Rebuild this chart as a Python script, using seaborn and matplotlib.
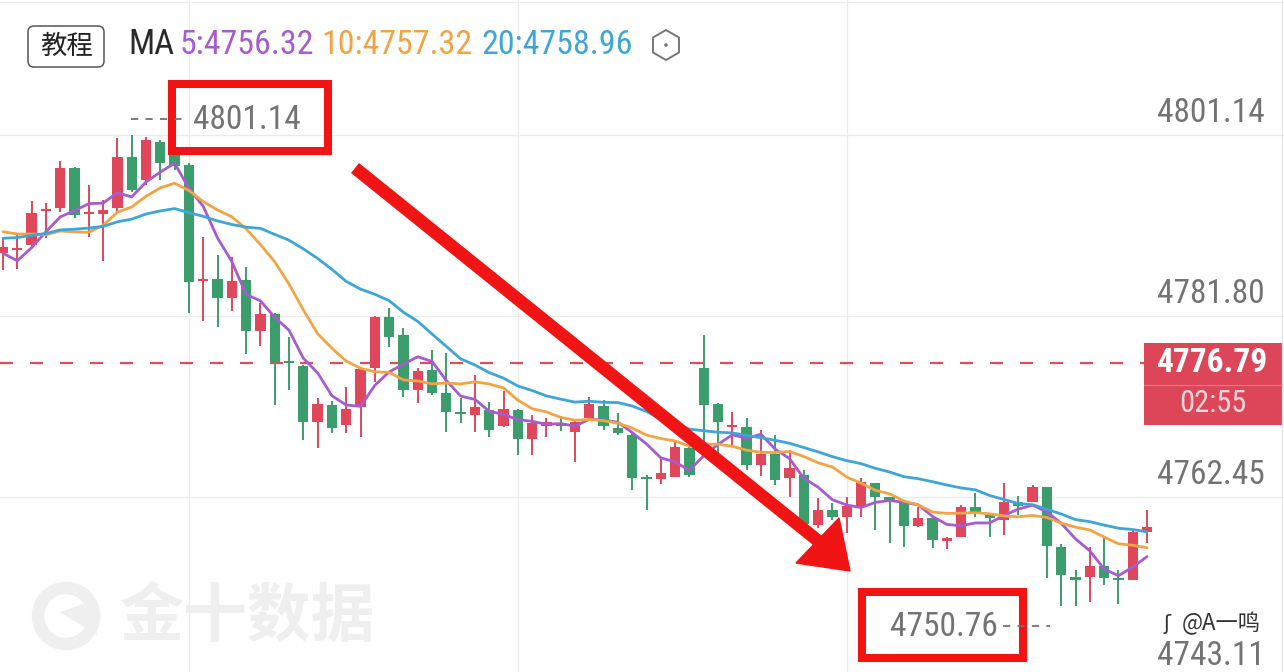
import matplotlib
matplotlib.use("Agg")
import matplotlib.pyplot as plt
from matplotlib import font_manager
from matplotlib.patches import Rectangle, Polygon, FancyBboxPatch, RegularPolygon, Circle
import seaborn as sns
import numpy as np
import pandas as pd

# candles (red = up, green = down)
open_ = [4788.5, 4788.9, 4789.4, 4793.0, 4793.3, 4797.6, 4792.7, 4792.7, 4793.3, 4798.8,
         4796.3, 4800.4, 4799.6, 4797.9, 4785.5, 4785.7, 4783.7, 4785.6, 4780.2, 4782.0,
         4777.0, 4776.5, 4770.5, 4772.3, 4770.1, 4772.1, 4776.2, 4781.7, 4779.8, 4773.9,
         4776.0, 4773.6, 4771.5, 4771.2, 4771.7, 4770.0, 4771.8, 4768.7, 4770.0, 4770.4,
         4769.4, 4770.9, 4772.2, 4769.8, 4769.1, 4764.6, 4764.4, 4764.6, 4767.7, 4776.2,
         4772.4, 4769.9, 4769.9, 4765.9, 4767.1, 4764.5, 4764.8, 4759.5, 4761.1, 4760.3,
         4761.4, 4763.9, 4762.4, 4761.9, 4759.3, 4760.2, 4757.8, 4758.2, 4761.4, 4760.5,
         4760.0, 4761.9, 4761.9, 4763.5, 4757.1, 4753.9, 4753.9, 4755.1, 4753.8, 4753.6,
         4758.7]
high_ = [4790.1, 4790.7, 4794.1, 4793.9, 4798.4, 4797.7, 4795.8, 4794.2, 4800.8, 4801.14,
         4800.9, 4800.6, 4800.4, 4798.1, 4790.2, 4788.3, 4788.1, 4787.0, 4783.2, 4782.1,
         4779.6, 4776.6, 4773.0, 4772.7, 4774.2, 4776.3, 4781.8, 4782.6, 4780.5, 4776.2,
         4778.2, 4777.8, 4773.0, 4775.5, 4772.6, 4773.8, 4771.9, 4771.2, 4770.9, 4771.1,
         4770.6, 4773.1, 4772.8, 4771.4, 4769.4, 4764.8, 4766.5, 4768.5, 4767.8, 4779.8,
         4772.5, 4771.5, 4770.9, 4769.6, 4769.1, 4767.5, 4765.3, 4762.3, 4761.8, 4762.4,
         4764.5, 4764.0, 4762.5, 4762.1, 4761.4, 4760.2, 4758.2, 4761.6, 4762.9, 4760.6,
         4764.0, 4762.6, 4763.7, 4763.5, 4757.4, 4754.6, 4757.1, 4758.1, 4754.6, 4758.9,
         4761.1]
low_ = [4786.7, 4786.8, 4789.1, 4790.1, 4792.9, 4792.3, 4790.2, 4787.7, 4792.8, 4795.0,
        4795.8, 4796.3, 4797.4, 4782.1, 4781.3, 4780.6, 4782.3, 4777.7, 4778.6, 4772.3,
        4773.9, 4768.5, 4767.7, 4769.3, 4769.3, 4768.9, 4774.7, 4778.5, 4773.1, 4772.5,
        4773.3, 4769.4, 4770.4, 4769.4, 4768.9, 4769.9, 4766.9, 4766.9, 4768.9, 4769.5,
        4766.2, 4770.7, 4769.6, 4769.1, 4763.2, 4761.1, 4763.8, 4764.6, 4764.6, 4766.7,
        4767.2, 4768.0, 4765.3, 4764.7, 4763.7, 4762.5, 4759.5, 4759.1, 4760.0, 4758.6,
        4760.3, 4758.9, 4757.5, 4757.1, 4759.2, 4757.0, 4756.9, 4758.2, 4760.3, 4758.2,
        4758.4, 4760.5, 4761.9, 4753.8, 4750.76, 4750.8, 4751.2, 4753.0, 4751.0, 4753.6,
        4757.5]
close_ = [4789.2, 4789.1, 4792.8, 4793.2, 4797.6, 4792.6, 4792.8, 4793.1, 4798.8, 4795.3,
          4800.6, 4798.1, 4797.8, 4785.4, 4785.7, 4783.7, 4785.5, 4780.2, 4782.0, 4776.9,
          4776.8, 4770.5, 4772.4, 4769.8, 4771.9, 4776.1, 4781.7, 4779.6, 4773.9, 4775.9,
          4773.6, 4771.5, 4771.3, 4772.1, 4769.6, 4771.9, 4768.7, 4770.4, 4770.5, 4770.0,
          4770.5, 4772.4, 4770.0, 4769.3, 4764.5, 4764.4, 4765.0, 4767.8, 4764.8, 4772.3,
          4770.5, 4770.1, 4765.9, 4767.0, 4764.3, 4765.5, 4759.6, 4761.1, 4760.3, 4761.5,
          4764.1, 4762.4, 4762.1, 4759.3, 4760.2, 4757.9, 4758.1, 4761.4, 4760.8, 4760.2,
          4761.9, 4761.5, 4763.5, 4757.2, 4754.1, 4753.6, 4755.1, 4753.8, 4753.6, 4758.7,
          4759.2]
# closes before the visible window, estimated from where the MA lines start
prior_close = [4787.5, 4788.2, 4789.0, 4790.1, 4791.0, 4790.4, 4789.6, 4789.0, 4789.5, 4789.7,
               4791.5, 4792.8, 4794.0, 4793.6, 4793.6, 4793.1, 4785.8, 4784.7, 4789.7]

ma_periods = [5, 10, 20]
ma_text = ["5:4756.32", "10:4757.32", "20:4758.96"]
price_ticks = [4801.14, 4781.80, 4762.45, 4743.11]
last_price = 4776.79
countdown = "02:55"
time_grid = [13, 36, 59]

RED = "#e0475b"
GREEN = "#3c9d6c"
MA_COLORS = ["#a65bd0", "#f0a444", "#3ea6d6"]
MARK = "#f01414"
GRAY = "#737373"

sns.set_theme(style="white")
plt.rcParams["font.family"] = ["Roboto", "Noto Sans CJK SC", "DejaVu Sans"]
names = {f.name for f in font_manager.fontManager.ttflist}
narrow = next((n for n in ["Roboto Condensed", "Liberation Sans Narrow"] if n in names), None)
NUM = [narrow, "DejaVu Sans"] if narrow else ["Roboto", "DejaVu Sans"]
num_size = 24 if narrow else 20
leg_size = 25 if narrow else 21
CJK = ["Noto Sans CJK SC", "DejaVu Sans"]

W, H = 1284, 672
fig = plt.figure(figsize=(W / 100, H / 100), dpi=100, facecolor="white")
ax = fig.add_axes([0, 0, 1, 1])
ax.set_axis_off()
step, px_per = 14.3, 9.357
ax.set_xlim(-3 / step, (W - 3) / step)
ax.set_ylim(4801.14 - (H - 135) / px_per, 4801.14 + 135 / px_per)

for t in price_ticks:
    ax.axhline(t, color="#ebebeb", lw=0.9, zorder=0)
    ax.annotate(f"{t:.2f}", xy=(1, t), xycoords=ax.get_yaxis_transform(),
                xytext=(-14, 16), textcoords="offset points", ha="right", va="center",
                color=GRAY, fontsize=num_size, family=NUM)
for g in time_grid:
    ax.axvline(g, color="#ebebeb", lw=0.9, zorder=0)

o = np.array(open_); h = np.array(high_); l = np.array(low_); c = np.array(close_)
idx = np.arange(len(c))
cols = np.where(c >= o, RED, GREEN)
ax.vlines(idx, l, h, colors=cols, lw=1.4, zorder=3)
ax.bar(idx, np.maximum(np.abs(c - o), 0.2), bottom=np.minimum(o, c), width=0.72,
       color=cols, lw=0, zorder=4)

allc = pd.Series(np.concatenate([prior_close, close_]))
for n, col in zip(ma_periods, MA_COLORS):
    ma = allc.rolling(n).mean().to_numpy()[len(prior_close):]
    sns.lineplot(x=idx, y=ma, ax=ax, color=col, lw=2.0, zorder=5)

ax.axhline(last_price, xmin=0, xmax=1144 / W, color="#d9505c", lw=1.6,
           ls=(0, (5.9, 7.6)), zorder=2)

# overlay in pixel coordinates for the labels and hand-drawn marks
ov = fig.add_axes([0, 0, 1, 1], zorder=10)
ov.set_xlim(0, W)
ov.set_ylim(H, 0)
ov.set_axis_off()
ov.patch.set_alpha(0)

ov.plot([0, W], [2, 2], color="#ebebeb", lw=0.9)
ov.plot([W - 2, W - 2], [0, H], color="#e6e6e6", lw=0.9)

# header
ov.add_patch(FancyBboxPatch((28, 26), 76, 41, boxstyle="round,pad=0,rounding_size=6",
                            fc="white", ec="#555555", lw=1.1))
ov.text(66, 46, "教程", family=CJK, fontsize=19, color="#222222", ha="center", va="center")
ov.text(128, 45, "MA", family=NUM, fontsize=leg_size, color="#2a2a2a", va="center")
for x, s, col in zip([180, 321, 481], ma_text, MA_COLORS):
    ov.text(x, 45, s, family=NUM, fontsize=leg_size - 0.5, color=col, va="center")
ov.add_patch(RegularPolygon((666, 45), 6, radius=15, fc="none", ec="#777777", lw=1.4))
ov.add_patch(Circle((666, 45), 1.8, fc="#777777", ec="none"))

# current price tag
ov.add_patch(Rectangle((1144, 343), 138, 82, fc="#dd4659", ec="none"))
ov.plot([1144, 1282], [385, 385], color="#ea7b87", lw=0.8)
ov.text(1213, 363, f"{last_price:.2f}", family=NUM, fontsize=num_size, color="white",
        ha="center", va="center", weight="bold")
ov.text(1213, 404, countdown, family=NUM, fontsize=num_size - 2, color="#f7d6da",
        ha="center", va="center")

# high / low marks with red boxes
ov.plot([131, 187], [119, 119], color=GRAY, lw=1.3, ls=(0, (4, 4)))
ov.text(193, 120, f"{max(high_):.2f}", family=NUM, fontsize=num_size, color=GRAY, va="center")
ov.add_patch(Rectangle((172, 84), 156, 67, fc="none", ec=MARK, lw=5.8))
ov.plot([1003, 1050], [626, 626], color=GRAY, lw=1.3, ls=(0, (4, 4)))
ov.text(890, 627, f"{min(low_):.2f}", family=NUM, fontsize=num_size, color=GRAY, va="center")
ov.add_patch(Rectangle((862, 592), 161, 66, fc="none", ec=MARK, lw=5.8))

# arrow
ov.plot([355, 822], [168, 544], color=MARK, lw=9.2, solid_capstyle="butt")
ov.add_patch(Polygon([(796, 563), (850, 571), (839, 518)], closed=True, fc=MARK, ec=MARK, lw=1))

# watermark and signature
ov.add_patch(Circle((66, 616), 28, fc="none", ec="#efefef", lw=9))
ov.add_patch(Polygon([(60, 612), (98, 636), (84, 604)], fc="#efefef", ec="none"))
ov.text(120, 617, "金十数据", family=CJK, fontsize=46, color="#efefef", va="center",
        weight="bold")
ov.text(1182, 624, "@A一鸣", family=CJK, fontsize=16, color="#333333", va="center")
ov.text(1163, 624, "ʃ", family=["DejaVu Sans"], fontsize=15, color="#333333", va="center")

fig.savefig("out.png", dpi=100, facecolor="white")
